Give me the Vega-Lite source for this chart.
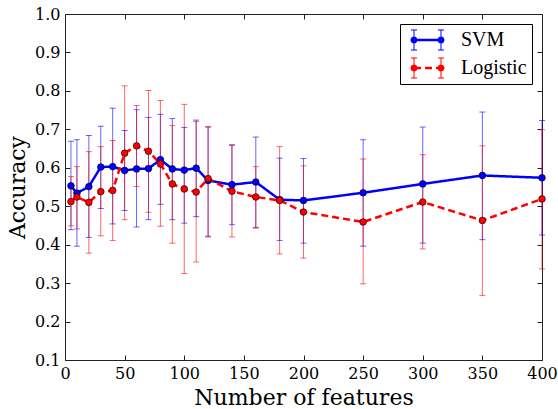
{
  "$schema": "https://vega.github.io/schema/vega-lite/v6.json",
  "width": 477,
  "height": 346,
  "autosize": {"type": "none"},
  "padding": {"left": 65, "top": 14, "right": 16, "bottom": 49},
  "background": "white",
  "config": {
    "view": {"stroke": "#222222", "strokeWidth": 1},
    "font": "DejaVu Serif",
    "axis": {
      "labelFont": "DejaVu Serif",
      "labelFontSize": 16,
      "labelColor": "black",
      "titleFont": "DejaVu Serif",
      "titleFontSize": 22,
      "titleFontWeight": "normal",
      "titleColor": "black",
      "grid": false,
      "domain": false,
      "tickColor": "#222222",
      "tickSize": -5,
      "tickWidth": 1,
      "labelFlush": false,
      "labelOverlap": false,
      "labelBound": false
    },
    "legend": {
      "labelFont": "Liberation Serif",
      "labelFontSize": 20,
      "labelColor": "black"
    }
  },
  "data": {
    "values": [
      {"model": "SVM", "n": 5, "acc": 0.553, "lo": 0.439, "hi": 0.669},
      {"model": "SVM", "n": 10, "acc": 0.534, "lo": 0.396, "hi": 0.673},
      {"model": "SVM", "n": 20, "acc": 0.551, "lo": 0.419, "hi": 0.684},
      {"model": "SVM", "n": 30, "acc": 0.602, "lo": 0.494, "hi": 0.708},
      {"model": "SVM", "n": 40, "acc": 0.603, "lo": 0.454, "hi": 0.755},
      {"model": "SVM", "n": 50, "acc": 0.593, "lo": 0.489, "hi": 0.697},
      {"model": "SVM", "n": 60, "acc": 0.597, "lo": 0.446, "hi": 0.751},
      {"model": "SVM", "n": 70, "acc": 0.598, "lo": 0.465, "hi": 0.731},
      {"model": "SVM", "n": 80, "acc": 0.621, "lo": 0.505, "hi": 0.739},
      {"model": "SVM", "n": 90, "acc": 0.597, "lo": 0.465, "hi": 0.728},
      {"model": "SVM", "n": 100, "acc": 0.594, "lo": 0.456, "hi": 0.705},
      {"model": "SVM", "n": 110, "acc": 0.599, "lo": 0.473, "hi": 0.724},
      {"model": "SVM", "n": 120, "acc": 0.567, "lo": 0.422, "hi": 0.706},
      {"model": "SVM", "n": 140, "acc": 0.556, "lo": 0.452, "hi": 0.660},
      {"model": "SVM", "n": 160, "acc": 0.563, "lo": 0.445, "hi": 0.680},
      {"model": "SVM", "n": 180, "acc": 0.517, "lo": 0.411, "hi": 0.625},
      {"model": "SVM", "n": 200, "acc": 0.515, "lo": 0.404, "hi": 0.624},
      {"model": "SVM", "n": 250, "acc": 0.535, "lo": 0.396, "hi": 0.673},
      {"model": "SVM", "n": 300, "acc": 0.558, "lo": 0.404, "hi": 0.706},
      {"model": "SVM", "n": 350, "acc": 0.580, "lo": 0.413, "hi": 0.745},
      {"model": "SVM", "n": 400, "acc": 0.574, "lo": 0.425, "hi": 0.723},
      {"model": "Logistic", "n": 5, "acc": 0.512, "lo": 0.449, "hi": 0.577},
      {"model": "Logistic", "n": 10, "acc": 0.524, "lo": 0.441, "hi": 0.603},
      {"model": "Logistic", "n": 20, "acc": 0.510, "lo": 0.378, "hi": 0.642},
      {"model": "Logistic", "n": 30, "acc": 0.538, "lo": 0.423, "hi": 0.655},
      {"model": "Logistic", "n": 40, "acc": 0.541, "lo": 0.411, "hi": 0.671},
      {"model": "Logistic", "n": 50, "acc": 0.638, "lo": 0.465, "hi": 0.813},
      {"model": "Logistic", "n": 60, "acc": 0.657, "lo": 0.551, "hi": 0.762},
      {"model": "Logistic", "n": 70, "acc": 0.643, "lo": 0.484, "hi": 0.801},
      {"model": "Logistic", "n": 80, "acc": 0.610, "lo": 0.448, "hi": 0.775},
      {"model": "Logistic", "n": 90, "acc": 0.558, "lo": 0.404, "hi": 0.710},
      {"model": "Logistic", "n": 100, "acc": 0.545, "lo": 0.325, "hi": 0.765},
      {"model": "Logistic", "n": 110, "acc": 0.537, "lo": 0.355, "hi": 0.720},
      {"model": "Logistic", "n": 120, "acc": 0.572, "lo": 0.420, "hi": 0.707},
      {"model": "Logistic", "n": 140, "acc": 0.539, "lo": 0.420, "hi": 0.658},
      {"model": "Logistic", "n": 160, "acc": 0.524, "lo": 0.443, "hi": 0.603},
      {"model": "Logistic", "n": 180, "acc": 0.515, "lo": 0.376, "hi": 0.655},
      {"model": "Logistic", "n": 200, "acc": 0.485, "lo": 0.365, "hi": 0.605},
      {"model": "Logistic", "n": 250, "acc": 0.459, "lo": 0.298, "hi": 0.623},
      {"model": "Logistic", "n": 300, "acc": 0.511, "lo": 0.389, "hi": 0.634},
      {"model": "Logistic", "n": 350, "acc": 0.463, "lo": 0.268, "hi": 0.657},
      {"model": "Logistic", "n": 400, "acc": 0.519, "lo": 0.337, "hi": 0.699}
    ]
  },
  "layer": [
    {
      "mark": {"type": "rule", "strokeWidth": 1, "opacity": 0.6},
      "encoding": {
        "x": {"field": "n", "type": "quantitative", "scale": {"domain": [0, 400], "nice": false, "zero": false},
              "axis": {"orient": "bottom", "values": [0, 50, 100, 150, 200, 250, 300, 350, 400], "format": "d", "title": "Number of features", "labelPadding": 10, "titlePadding": 6}},
        "y": {"field": "lo", "type": "quantitative", "scale": {"domain": [0.1, 1.0], "nice": false, "zero": false},
              "axis": {"orient": "left", "values": [0.1, 0.2, 0.3, 0.4, 0.5, 0.6, 0.7, 0.8, 0.9, 1.0], "format": ".1f", "title": "Accuracy", "labelPadding": 10, "titlePadding": 5}},
        "y2": {"field": "hi"},
        "color": {"field": "model", "type": "nominal", "scale": {"domain": ["SVM", "Logistic"], "range": ["#0000ff", "#ff0000"]}}
      }
    },
    {
      "mark": {"type": "tick", "orient": "horizontal", "size": 6, "thickness": 1, "opacity": 0.6},
      "encoding": {
        "x": {"field": "n", "type": "quantitative",
              "axis": {"orient": "top", "values": [0, 50, 100, 150, 200, 250, 300, 350, 400], "labels": false, "title": null}},
        "y": {"field": "lo", "type": "quantitative",
              "axis": {"orient": "right", "values": [0.1, 0.2, 0.3, 0.4, 0.5, 0.6, 0.7, 0.8, 0.9, 1.0], "labels": false, "title": null}},
        "color": {"field": "model", "type": "nominal"}
      }
    },
    {
      "mark": {"type": "tick", "orient": "horizontal", "size": 6, "thickness": 1, "opacity": 0.6},
      "encoding": {
        "x": {"field": "n", "type": "quantitative", "axis": null},
        "y": {"field": "hi", "type": "quantitative", "axis": null},
        "color": {"field": "model", "type": "nominal"}
      }
    },
    {
      "mark": {"type": "line", "strokeWidth": 2.5},
      "encoding": {
        "x": {"field": "n", "type": "quantitative", "axis": null},
        "y": {"field": "acc", "type": "quantitative", "axis": null},
        "color": {"field": "model", "type": "nominal",
          "legend": {
            "orient": "top-right", "offset": 10, "title": null, "padding": 5, "rowPadding": 6,
            "strokeColor": "black", "fillColor": "white", "cornerRadius": 0,
            "labelFont": "Liberation Serif", "labelFontSize": 20, "labelColor": "black",
            "labelExpr": "datum.label + '\u00a0'",
            "symbolSize": 484, "symbolStrokeWidth": 0, "symbolOffset": 11.5, "labelOffset": 22.5,
            "encode": {
              "symbols": {
                "update": {
                  "shape": {"signal": "datum.value === 'SVM' ? 'M-1.227,-0.114L1.227,-0.114L1.227,0.114L-1.227,0.114Z M-1.545,0A0.318,0.318 0 1 1 -0.909,0A0.318,0.318 0 1 1 -1.545,0Z M0.909,0A0.318,0.318 0 1 1 1.545,0A0.318,0.318 0 1 1 0.909,0Z M-1.272,-0.909L-1.182,-0.909L-1.182,0.909L-1.272,0.909Z M-1.5,-0.954L-0.954,-0.954L-0.954,-0.864L-1.5,-0.864Z M-1.5,0.864L-0.954,0.864L-0.954,0.954L-1.5,0.954Z M1.182,-0.909L1.272,-0.909L1.272,0.909L1.182,0.909Z M0.954,-0.954L1.5,-0.954L1.5,-0.864L0.954,-0.864Z M0.954,0.864L1.5,0.864L1.5,0.954L0.954,0.954Z' : 'M-1.227,-0.114L-0.591,-0.114L-0.591,0.114L-1.227,0.114Z M-0.227,-0.114L0.409,-0.114L0.409,0.114L-0.227,0.114Z M0.773,-0.114L1.227,-0.114L1.227,0.114L0.773,0.114Z M-1.545,0A0.318,0.318 0 1 1 -0.909,0A0.318,0.318 0 1 1 -1.545,0Z M0.909,0A0.318,0.318 0 1 1 1.545,0A0.318,0.318 0 1 1 0.909,0Z M-1.272,-0.909L-1.182,-0.909L-1.182,0.909L-1.272,0.909Z M-1.5,-0.954L-0.954,-0.954L-0.954,-0.864L-1.5,-0.864Z M-1.5,0.864L-0.954,0.864L-0.954,0.954L-1.5,0.954Z M1.182,-0.909L1.272,-0.909L1.272,0.909L1.182,0.909Z M0.954,-0.954L1.5,-0.954L1.5,-0.864L0.954,-0.864Z M0.954,0.864L1.5,0.864L1.5,0.954L0.954,0.954Z'"},
                  "fill": {"signal": "datum.value === 'SVM' ? '#0000ff' : '#ff0000'"},
                  "stroke": {"value": "transparent"},
                  "strokeWidth": {"value": 0},
                  "opacity": {"value": 1}
                }
              }
            }
          }
        },
        "strokeDash": {"field": "model", "type": "nominal", "scale": {"domain": ["SVM", "Logistic"], "range": [[1, 0], [7, 4]]}, "legend": null}
      }
    },
    {
      "mark": {"type": "point", "filled": true, "size": 45, "stroke": "black", "strokeWidth": 0.6, "opacity": 1},
      "encoding": {
        "x": {"field": "n", "type": "quantitative", "axis": null},
        "y": {"field": "acc", "type": "quantitative", "axis": null},
        "color": {"field": "model", "type": "nominal"}
      }
    }
  ],
  "resolve": {"axis": {"x": "independent", "y": "independent"}}
}
